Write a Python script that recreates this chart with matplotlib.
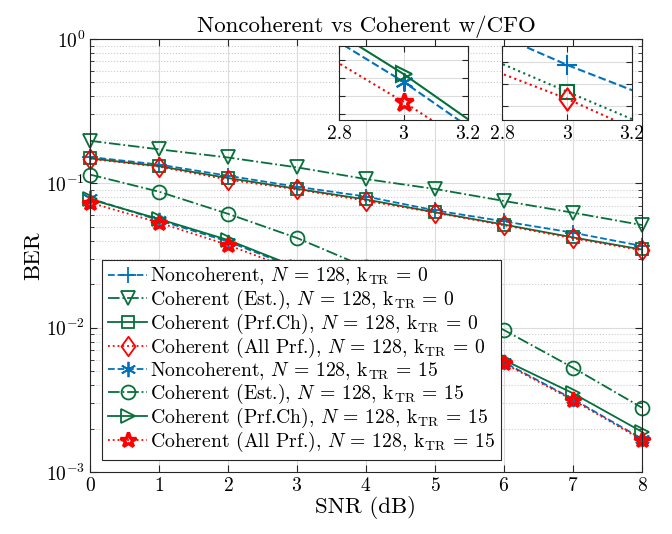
import numpy as np
import matplotlib
matplotlib.use("Agg")
import matplotlib.pyplot as plt
from matplotlib.path import Path
from matplotlib.ticker import NullFormatter, FixedLocator

plt.rcParams['font.family'] = 'serif'
plt.rcParams['font.serif'] = ['cmr10', 'DejaVu Serif']
plt.rcParams['mathtext.fontset'] = 'cm'
plt.rcParams['axes.formatter.use_mathtext'] = True
plt.rcParams['axes.unicode_minus'] = False

# BER curves
snr = [0, 1, 2, 3, 4, 5, 6, 7, 8]

nc_0 = [0.152, 0.135, 0.1128, 0.0947, 0.081, 0.065, 0.0545, 0.0455, 0.0368]
est_0 = [0.197, 0.172, 0.151, 0.129, 0.107, 0.0914, 0.0755, 0.0626, 0.0514]
pch_0 = [0.149, 0.1315, 0.1088, 0.0916, 0.0773, 0.063, 0.0518, 0.0422, 0.0348]
allp_0 = [0.148, 0.1305, 0.106, 0.0908, 0.0757, 0.0627, 0.0512, 0.0416, 0.0343]

nc_15 = [0.0787, 0.0555, 0.0395, 0.02576, 0.01589, 0.00966, 0.00575, 0.0032, 0.0017]
est_15 = [0.115, 0.0875, 0.0615, 0.0418, 0.0262, 0.0160, 0.00963, 0.00528, 0.00279]
pch_15 = [0.0775, 0.0566, 0.0405, 0.0262, 0.01607, 0.00989, 0.00597, 0.00351, 0.0019]
allp_15 = [0.0735, 0.0534, 0.0374, 0.02466, 0.0157, 0.00955, 0.00566, 0.00315, 0.00167]

labels = [
    r'Noncoherent, $N$ = 128, k$_{\mathrm{TR}}$ = 0',
    r'Coherent (Est.), $N$ = 128, k$_{\mathrm{TR}}$ = 0',
    r'Coherent (Prf.Ch), $N$ = 128, k$_{\mathrm{TR}}$ = 0',
    r'Coherent (All Prf.), $N$ = 128, k$_{\mathrm{TR}}$ = 0',
    r'Noncoherent, $N$ = 128, k$_{\mathrm{TR}}$ = 15',
    r'Coherent (Est.), $N$ = 128, k$_{\mathrm{TR}}$ = 15',
    r'Coherent (Prf.Ch), $N$ = 128, k$_{\mathrm{TR}}$ = 15',
    r'Coherent (All Prf.), $N$ = 128, k$_{\mathrm{TR}}$ = 15',
]

blue = '#0072BD'
green = '#05703A'
red = '#FF0000'

# matlab-like diamond (a bit taller than wide)
diamond = Path([(0, 1), (0.72, 0), (0, -1), (-0.72, 0), (0, 1)],
               [Path.MOVETO, Path.LINETO, Path.LINETO, Path.LINETO, Path.CLOSEPOLY])
asterisk = (6, 2, 0)

styles = [
    (nc_0, blue, '--', '+', 12),
    (est_0, green, '-.', 'v', 10),
    (pch_0, green, '-', 's', 8.5),
    (allp_0, red, ':', diamond, 14),
    (nc_15, blue, '--', asterisk, 11),
    (est_15, green, '-.', 'o', 10),
    (pch_15, green, '-', '>', 10),
    (allp_15, red, ':', '*', 11.5),
]

fig = plt.figure(figsize=(6.72, 5.34), dpi=100)
ax = fig.add_axes([0.1339, 0.1161, 0.8214, 0.8109])

for (vals, c, ls, mk, ms), lab in zip(styles, labels):
    ew = 2.4 if mk == '*' else 1.3
    ax.semilogy(snr, vals, color=c, linestyle=ls, marker=mk, markersize=ms,
                markerfacecolor='none', markeredgewidth=ew, linewidth=1.3,
                label=lab, clip_on=False)

ax.set_xlim(0, 8)
ax.set_ylim(1e-3, 1)
ax.set_xticks(range(0, 9))
ax.tick_params(which='both', direction='in', top=True, right=True, labelsize=14,
               color='#262626')
ax.tick_params(which='major', length=5)
ax.tick_params(which='minor', length=3)
ax.tick_params(axis='x', which='minor', bottom=False, top=False)
ax.grid(True, which='major', color='#dcdcdc', linewidth=0.8)
ax.grid(True, which='minor', axis='y', color='#cccccc', linestyle=':', linewidth=0.8)
ax.set_axisbelow(True)
for s in ax.spines.values():
    s.set_color('#262626')
    s.set_linewidth(0.8)

ax.set_xlabel('SNR (dB)', fontsize=16.5, labelpad=1)
ax.set_ylabel('BER', fontsize=16.5, labelpad=2)
ax.set_title('Noncoherent vs Coherent w/CFO', fontsize=16.5, pad=5)

leg = ax.legend(loc='lower left', bbox_to_anchor=(0.0217, 0.0277), borderaxespad=0,
                fontsize=14.2, handlelength=2.0, handletextpad=0.15, labelspacing=0.0,
                borderpad=0.3, fancybox=False, framealpha=1, edgecolor='#262626')
leg.get_frame().set_linewidth(0.8)

# zoomed insets around SNR = 3
def inset(rect, idx, ylim, yt, green_ls=None):
    a = fig.add_axes(rect)
    for i in idx:
        vals, c, ls, mk, ms = styles[i]
        if green_ls is not None and c == green:
            ls = green_ls
        ew = 2.4 if mk == '*' else 1.5
        a.semilogy(snr, vals, color=c, linestyle=ls, marker=mk, markersize=ms + 2,
                   markerfacecolor='none', markeredgewidth=ew, linewidth=1.5)
    a.set_xlim(2.8, 3.2)
    a.set_ylim(*ylim)
    a.set_xticks([2.8, 3, 3.2])
    a.set_xticklabels(['2.8', '3', '3.2'])
    a.yaxis.set_major_locator(FixedLocator(yt))
    a.yaxis.set_minor_locator(FixedLocator([]))
    a.yaxis.set_major_formatter(NullFormatter())
    a.yaxis.set_minor_formatter(NullFormatter())
    a.tick_params(which='both', direction='in', top=True, right=True, labelsize=14,
                  length=4, color='#262626')
    a.grid(True, color='#dcdcdc', linewidth=0.8)
    for s in a.spines.values():
        s.set_color('#262626')
        s.set_linewidth(0.8)
    return a

inset([0.5049, 0.7753, 0.1911, 0.1391], [4, 6, 7], (0.02371, 0.02786),
      [0.024, 0.025, 0.026, 0.027])
inset([0.7475, 0.7753, 0.1926, 0.1391], [0, 2, 3], (0.08844, 0.09698),
      [0.09, 0.0925, 0.095], green_ls=':')

fig.savefig('out.png', dpi=100)
